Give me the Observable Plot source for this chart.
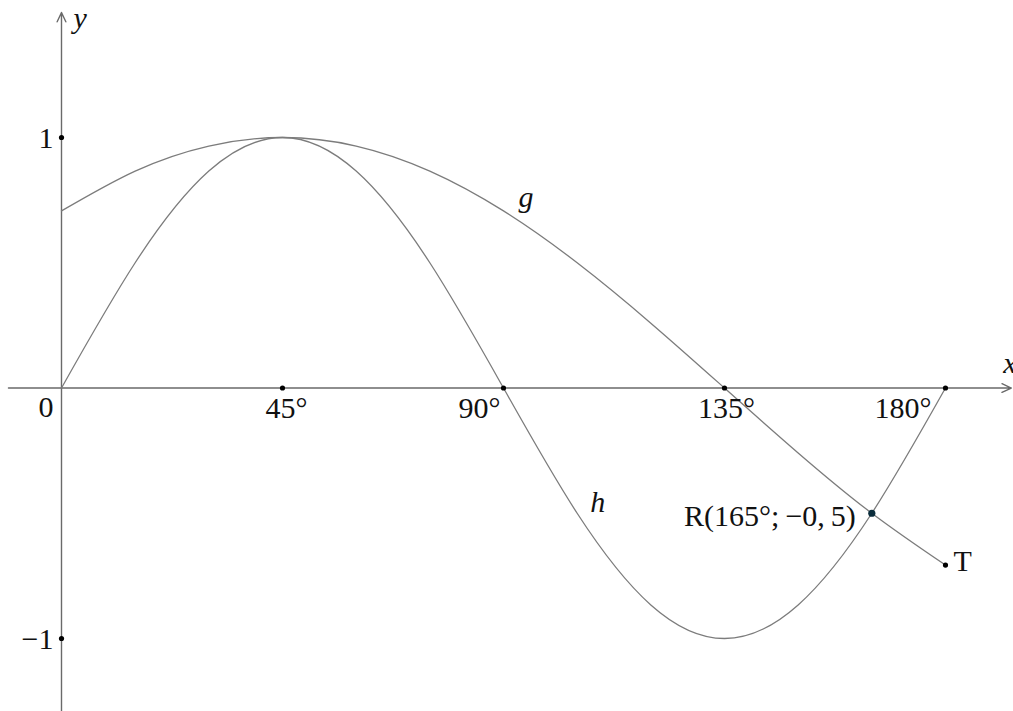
<!DOCTYPE html>
<html>
<head>
<meta charset="utf-8">
<script src="https://cdn.jsdelivr.net/npm/d3@7"></script>
<script src="https://cdn.jsdelivr.net/npm/@observablehq/plot@0.6"></script>
<style>
  html, body { margin: 0; padding: 0; background: #fff; overflow: hidden; }
</style>
</head>
<body>
<div id="chart"></div>
<script>
// Values
const degrees = [0, 15, 30, 45, 60, 75, 90, 105, 120, 135, 150, 165, 180];
const gValues = [0.707, 0.866, 0.966, 1, 0.966, 0.866, 0.707, 0.5, 0.259, 0, -0.259, -0.5, -0.707];
const hValues = [0, 0.5, 0.866, 1, 0.866, 0.5, 0, -0.5, -0.866, -1, -0.866, -0.5, 0];

const xTicks = [45, 90, 135, 180];
const xTickLabels = ["45°", "90°", "135°", "180°"];
const yTicks = [1, -1];
const yTickLabels = ["1", "−1"];

const pointR = {x: 165, y: -0.5, label: "R(165°;\u2009−0,\u20095)"};
const pointT = {x: 180, y: -0.707, label: "T"};

const gData = degrees.map((d, i) => ({x: d, y: gValues[i]}));
const hData = degrees.map((d, i) => ({x: d, y: hValues[i]}));
const xTickData = xTicks.map((d, i) => ({x: d, y: 0, label: xTickLabels[i]}));
const yTickData = yTicks.map((d, i) => ({x: 0, y: d, label: yTickLabels[i]}));

const W = 1013, H = 711;
const FONT = "'Liberation Serif', 'Times New Roman', serif";
const FS = 30;
const curveColor = "#7c7c7c";
const axisColor = "#6a6a6a";

const chart = Plot.plot({
  width: W,
  height: H,
  margin: 0,
  x: {domain: [-12.42, 193.85], range: [0, W]},
  y: {domain: [-1.2914, 1.547], range: [H, 0]},
  axis: null,
  style: {fontFamily: FONT, background: "#fff", color: "#111"},
  marks: [
    // axes
    Plot.arrow([{x1: -10.8, x2: 193.4, y1: 0, y2: 0}], {
      x1: "x1", x2: "x2", y1: "y1", y2: "y2",
      stroke: axisColor, strokeWidth: 1.4, headLength: 11, headAngle: 50
    }),
    Plot.arrow([{x1: 0, x2: 0, y1: -1.2914, y2: 1.499}], {
      x1: "x1", x2: "x2", y1: "y1", y2: "y2",
      stroke: axisColor, strokeWidth: 1.4, headLength: 11, headAngle: 50
    }),
    // curves
    Plot.line(gData, {x: "x", y: "y", curve: "natural", stroke: curveColor, strokeWidth: 1.3}),
    Plot.line(hData, {x: "x", y: "y", curve: "natural", stroke: curveColor, strokeWidth: 1.3}),
    // tick dots
    Plot.dot(xTickData, {x: "x", y: "y", r: 2.6, fill: "#000"}),
    Plot.dot(yTickData, {x: "x", y: "y", r: 2.6, fill: "#000"}),
    Plot.dot([pointT], {x: "x", y: "y", r: 2.6, fill: "#000"}),
    Plot.dot([pointR], {x: "x", y: "y", r: 3.6, fill: "#0b2d3c"}),
    // tick labels
    Plot.text([xTickData[0]], {x: "x", y: "y", text: "label", textAnchor: "middle", lineAnchor: "bottom", dx: 4, dy: 30, fontSize: FS, fill: "#111"}),
    Plot.text([xTickData[1]], {x: "x", y: "y", text: "label", textAnchor: "end", lineAnchor: "bottom", dx: -3, dy: 30, fontSize: FS, fill: "#111"}),
    Plot.text([xTickData[2]], {x: "x", y: "y", text: "label", textAnchor: "middle", lineAnchor: "bottom", dx: 2, dy: 30, fontSize: FS, fill: "#111"}),
    Plot.text([xTickData[3]], {x: "x", y: "y", text: "label", textAnchor: "end", lineAnchor: "bottom", dx: -14, dy: 30, fontSize: FS, fill: "#111"}),
    Plot.text(yTickData, {x: "x", y: "y", text: "label", textAnchor: "end", lineAnchor: "bottom", dx: -8, dy: 10, fontSize: FS, fill: "#111"}),
    Plot.text([{x: 0, y: 0, label: "0"}], {x: "x", y: "y", text: "label", textAnchor: "end", lineAnchor: "bottom", dx: -8, dy: 29, fontSize: FS, fill: "#111"}),
    // axis names
    Plot.text([{x: 0, y: 1.499, label: "y"}], {x: "x", y: "y", text: "label", textAnchor: "start", lineAnchor: "bottom", dx: 12, dy: 15, fontSize: FS, fontStyle: "italic", fill: "#111"}),
    Plot.text([{x: 193.4, y: 0, label: "x"}], {x: "x", y: "y", text: "label", textAnchor: "start", lineAnchor: "bottom", dx: -8, dy: -15, fontSize: FS, fontStyle: "italic", fill: "#111"}),
    // curve names
    Plot.text([gData[6]], {x: "x", y: "y", text: () => "g", textAnchor: "start", lineAnchor: "bottom", dx: 15, dy: -4, fontSize: FS, fontStyle: "italic", fill: "#111"}),
    Plot.text([hData[7]], {x: "x", y: "y", text: () => "h", textAnchor: "start", lineAnchor: "bottom", dx: 13, dy: -1, fontSize: FS, fontStyle: "italic", fill: "#111"}),
    // point labels
    Plot.text([pointR], {x: "x", y: "y", text: "label", textAnchor: "end", lineAnchor: "bottom", dx: -16, dy: 13, fontSize: FS, fill: "#111"}),
    Plot.text([pointT], {x: "x", y: "y", text: "label", textAnchor: "start", lineAnchor: "bottom", dx: 8, dy: 6, fontSize: FS, fill: "#111"})
  ]
});
document.getElementById("chart").appendChild(chart);
</script>
</body>
</html>
